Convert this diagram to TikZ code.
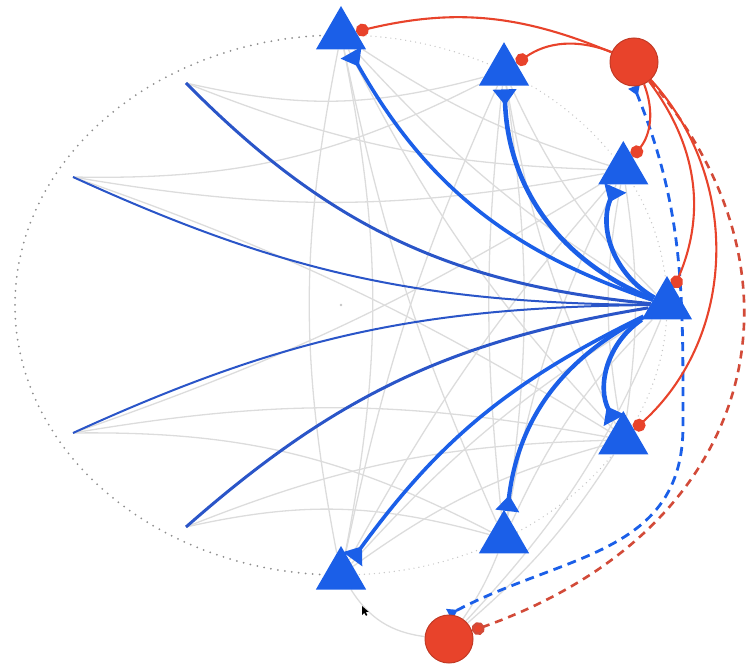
\documentclass[tikz,border=0pt]{standalone}
\usetikzlibrary{arrows.meta,shapes.geometric,calc}
\definecolor{nblue}{HTML}{1B5FE8}
\definecolor{nbluedark}{HTML}{2A55C8}
\definecolor{nred}{HTML}{E8432B}
\definecolor{nredd}{HTML}{C23A25}
\definecolor{nreddash}{HTML}{D24A38}
\definecolor{lgray}{HTML}{DCDCDC}
\definecolor{dgray}{HTML}{8E8E8E}
\definecolor{mgray}{HTML}{C4C4C4}
\pgfdeclarelayer{bg}
\pgfsetlayers{bg,main}
\begin{document}
\begin{tikzpicture}[x=1pt,y=1pt,
  tri/.style={regular polygon, regular polygon sides=3, fill=nblue, draw=none, minimum size=58pt, inner sep=0pt},
  rnode/.style={circle, fill=nred, draw=nredd, line width=1pt, minimum size=48pt, inner sep=0pt},
  grayedge/.style={draw=lgray, line width=1.3pt},
  blueedge/.style={draw=nblue, shorten >=3.5pt, -{Triangle[reversed,length=16pt,width=23pt]}},
  blueline/.style={draw=nbluedark},
  rededge/.style={draw=nred, line width=2.1pt, -{Circle[length=13pt]}},
  reddash/.style={draw=nreddash, line width=2.6pt, dash pattern=on 8pt off 6pt, -{Circle[length=13pt,fill=nred]}},
  bluedash/.style={draw=nblue, line width=2.8pt, dash pattern=on 9pt off 6pt, {Triangle[reversed,length=10pt,width=12pt]}-{Triangle[reversed,length=10pt,width=12pt]}},
  dotdark/.style={draw=dgray, line width=2pt, line cap=round, dash pattern=on 0pt off 7pt},
  dotlight/.style={draw=mgray, line width=1.4pt, line cap=round, dash pattern=on 0pt off 5pt},
]
\useasboundingbox (0,0) rectangle (751,666);

% positions on the ellipse (centre 341,361; radii 326,270)
\coordinate (C) at (341,361);
\node[tri] (T1) at (341,631) {};
\node[tri] (T2) at (504,594.8) {};
\node[tri] (T3) at (623.3,496) {};
\node[tri] (T4) at (667,361) {};
\node[tri] (T5) at (623.3,226) {};
\node[tri] (T6) at (504,127.2) {};
\node[tri] (T7) at (341,91) {};
\node[rnode] (R1) at (634,604) {};
\node[rnode] (R2) at (449,27) {};
\coordinate (U1) at (186,583);
\coordinate (U2) at (73,489);
\coordinate (L2) at (73,233);
\coordinate (L1) at (186,139);
\coordinate (E90) at (341,631);
\coordinate (W) at (683,240);

% mouse pointer
\fill[black] (362,60) coordinate (cur) -- ++(0,-9) -- ++(2.2,2.2) -- ++(1.8,-3) -- ++(1.4,0.8) -- ++(-1.7,2.9) -- ++(3,0.2) -- cycle;

\begin{pgfonlayer}{bg}
  % dotted outline
  \draw[dotdark] (E90) arc[start angle=90, end angle=270, x radius=326pt, y radius=270pt];
  \draw[dotlight] (E90) arc[start angle=90, end angle=-90, x radius=326pt, y radius=270pt];
  \fill[mgray] (C) circle[radius=1.3pt];

  % light gray edges between triangles
  \draw[grayedge] (T1) to[bend right=11] (T7);
  \draw[grayedge] (T1) to[bend left=11] (T7);
  \draw[grayedge] (T1) to[bend right=8] (T3);
  \draw[grayedge] (T1) to[bend right=8] (T4);
  \draw[grayedge] (T1) to[bend right=8] (T5);
  \draw[grayedge] (T1) to[bend right=6] (T6);
  \draw[grayedge] (T2) to[bend right=10] (T4);
  \draw[grayedge] (T2) to[bend right=8] (T5);
  \draw[grayedge] (T2) to[bend right=6] (T6);
  \draw[grayedge] (T2) to[bend right=6] (T7);
  \draw[grayedge] (T3) to[bend right=10] (T5);
  \draw[grayedge] (T3) to[bend right=8] (T6);
  \draw[grayedge] (T3) to[bend right=6] (T7);
  \draw[grayedge] (T4) to[bend right=10] (T6);
  \draw[grayedge] (T4) to[bend right=8] (T7);
  \draw[grayedge] (T5) to[bend right=10] (T7);
  \draw[grayedge] (T2) to[bend left=8] (T6);
  \draw[grayedge] (T3) to[bend left=8] (T5);
  % gray edges to the left side
  \draw[grayedge] (U1) to[bend right=14] (T2);
  \draw[grayedge] (U1) to[bend right=10] (T3);
  \draw[grayedge] (U2) to[bend right=14] (T2);
  \draw[grayedge] (U2) to[bend right=10] (T3);
  \draw[grayedge] (U2) to[bend left=6] (T5);
  \draw[grayedge] (L2) to[bend left=14] (T6);
  \draw[grayedge] (L2) to[bend left=10] (T5);
  \draw[grayedge] (L2) to[bend right=6] (T3);
  \draw[grayedge] (L1) to[bend left=14] (T6);
  \draw[grayedge] (L1) to[bend left=10] (T5);
  % gray edges of R2
  \draw[grayedge] (T7) to[bend right=25] (R2);
  \draw[grayedge] (R2) to[bend right=6] (T6);
  \draw[grayedge] (R2) to[bend right=8] (T5);
  \draw[grayedge] (R2) to[bend right=10] (T4);

  % blue edges from the hub T4
  \draw[blueedge, line width=3.6pt] (T4) to[bend left=21] (T1);
  \draw[blueedge, line width=4.6pt] (T4) to[bend left=33] (T2);
  \draw[blueedge, line width=4.6pt] (T4) to[bend left=42] (T3);
  \draw[blueedge, line width=4.6pt] (T4) to[bend right=42] (T5);
  \draw[blueedge, line width=4.2pt] (T4) to[bend right=28] (T6);
  \draw[blueedge, line width=3.6pt] (T4) to[bend right=14] (T7);
  \draw[blueline, line width=3pt] (T4) to[bend left=20] (U1);
  \draw[blueline, line width=2pt] (T4) to[bend left=12] (U2);
  \draw[blueline, line width=2pt] (T4) to[bend right=12] (L2);
  \draw[blueline, line width=3pt] (T4) to[bend right=16] (L1);

  % dashed edges between the red nodes
  \draw[bluedash] (R1.south) to[out=-68, in=90] (W) to[out=-90, in=28, looseness=1.1] (R2.north);
  \draw[reddash] (R1) .. controls +(-49:276) and +(19.6:336) .. (R2);

  % red edges from R1
  \draw[rededge] (R1) to[bend right=18] (T1);
  \draw[rededge] (R1) to[bend right=28] (T2);
  \draw[rededge] (R1) to[bend left=30] (T3);
  \draw[rededge] (R1) to[bend left=30] (T4);
  \draw[rededge] (R1) to[bend left=45] (T5);
\end{pgfonlayer}
\end{tikzpicture}
\end{document}
